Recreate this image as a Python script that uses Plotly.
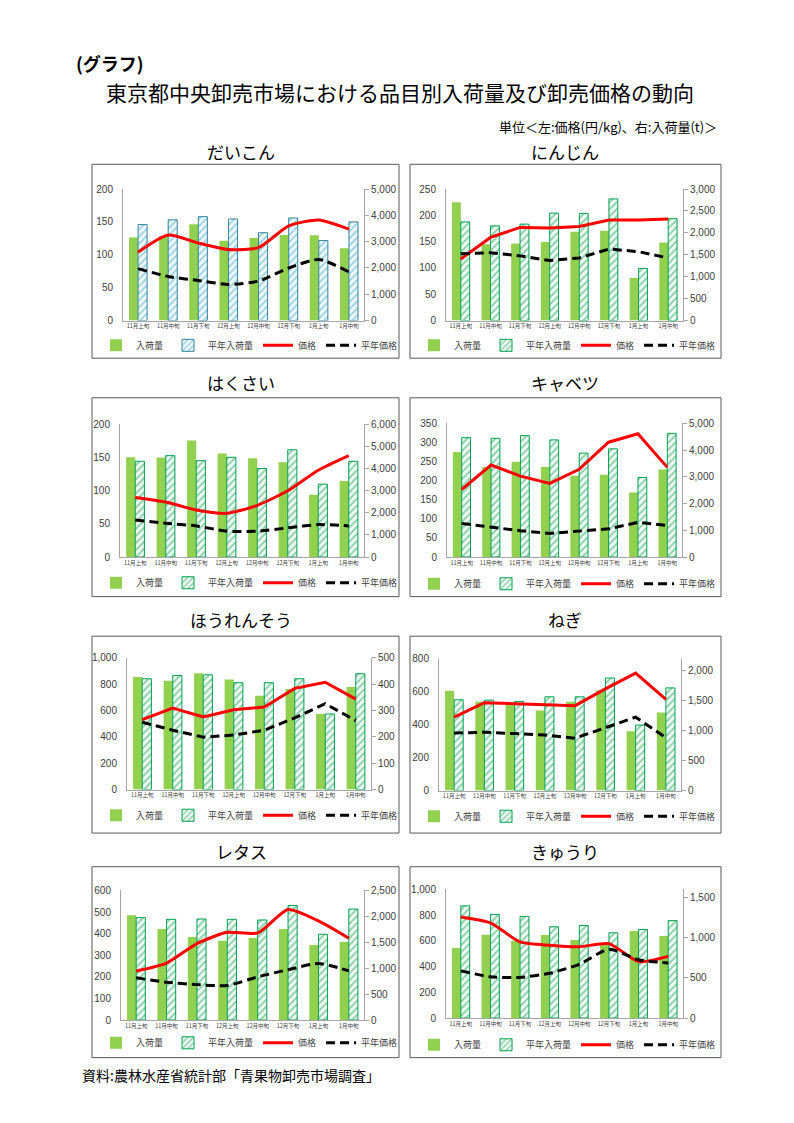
import plotly.graph_objects as go

W, H = 794, 1123

cats = ["11月上旬", "11月中旬", "11月下旬", "12月上旬", "12月中旬", "12月下旬", "1月上旬", "1月中旬"]
legend_names = ["入荷量", "平年入荷量", "価格", "平年価格"]

# だいこん
daikon_qty = [3160, 3200, 3660, 3030, 3140, 3250, 3240, 2750]
daikon_avg_qty = [3650, 3830, 3950, 3860, 3340, 3900, 3040, 3750]
daikon_price = [104, 130, 118, 108, 111, 144, 153, 139]
daikon_avg_price = [79, 67, 61, 55, 60, 80, 93, 74]
# にんじん
ninjin_qty = [2700, 1740, 1760, 1790, 2025, 2050, 970, 1780]
ninjin_avg_qty = [2250, 2160, 2200, 2450, 2445, 2775, 1190, 2325]
ninjin_price = [117, 158, 177, 176, 179, 191, 191, 193]
ninjin_avg_price = [127, 129, 123, 114, 119, 136, 131, 119]
# はくさい
hakusai_qty = [4515, 4510, 5270, 4690, 4470, 4290, 2820, 3445]
hakusai_avg_qty = [4335, 4590, 4365, 4515, 4010, 4855, 3300, 4335]
hakusai_price = [90, 83, 71, 66, 78, 100, 131, 153]
hakusai_avg_price = [56, 51, 47, 39, 39, 44, 49, 47]
# キャベツ
cabbage_qty = [3930, 3375, 3570, 3375, 3040, 3080, 2415, 3275]
cabbage_avg_qty = [4470, 4445, 4545, 4385, 3890, 4050, 2980, 4630]
cabbage_price = [177, 241, 212, 193, 230, 301, 323, 235]
cabbage_avg_price = [88, 79, 69, 62, 68, 74, 91, 83]
# ほうれんそう
spinach_qty = [428, 413, 442, 418, 356, 382, 287, 390]
spinach_avg_qty = [421, 433, 436, 406, 406, 421, 287, 440]
spinach_price = [531, 619, 551, 606, 627, 769, 815, 687]
spinach_avg_price = [511, 451, 398, 414, 451, 544, 652, 524]
# ねぎ
negi_qty = [1667, 1485, 1457, 1337, 1485, 1677, 990, 1303]
negi_avg_qty = [1518, 1512, 1490, 1567, 1567, 1881, 1094, 1716]
negi_price = [446, 534, 528, 520, 516, 618, 714, 554]
negi_avg_price = [350, 354, 346, 338, 318, 384, 446, 322]
# レタス
lettuce_qty = [2020, 1758, 1604, 1528, 1585, 1758, 1450, 1508]
lettuce_avg_qty = [1975, 1943, 1949, 1943, 1930, 2211, 1655, 2141]
lettuce_price = [227, 264, 354, 406, 403, 512, 459, 379]
lettuce_avg_price = [196, 175, 164, 160, 200, 233, 262, 228]
# きゅうり
kyuri_qty = [873, 1036, 960, 1033, 971, 930, 1082, 1020]
kyuri_avg_qty = [1396, 1290, 1265, 1135, 1151, 1061, 1102, 1212]
kyuri_price = [786, 740, 592, 566, 554, 579, 439, 480]
kyuri_avg_price = [367, 321, 316, 349, 418, 536, 454, 429]

panels = [
    dict(title="だいこん", d=(daikon_qty, daikon_avg_qty, daikon_price, daikon_avg_price),
         pmax=200, pd=50, qmax=5000, qd=1000, spline=True, blue=True),
    dict(title="にんじん", d=(ninjin_qty, ninjin_avg_qty, ninjin_price, ninjin_avg_price),
         pmax=250, pd=50, qmax=3000, qd=500, spline=False, blue=False),
    dict(title="はくさい", d=(hakusai_qty, hakusai_avg_qty, hakusai_price, hakusai_avg_price),
         pmax=200, pd=50, qmax=6000, qd=1000, spline=True, blue=False),
    dict(title="キャベツ", d=(cabbage_qty, cabbage_avg_qty, cabbage_price, cabbage_avg_price),
         pmax=350, pd=50, qmax=5000, qd=1000, spline=False, blue=False),
    dict(title="ほうれんそう", d=(spinach_qty, spinach_avg_qty, spinach_price, spinach_avg_price),
         pmax=1000, pd=200, qmax=500, qd=100, spline=False, blue=False),
    dict(title="ねぎ", d=(negi_qty, negi_avg_qty, negi_price, negi_avg_price),
         pmax=800, pd=200, qmax=2200, qd=500, spline=False, blue=False),
    dict(title="レタス", d=(lettuce_qty, lettuce_avg_qty, lettuce_price, lettuce_avg_price),
         pmax=600, pd=100, qmax=2500, qd=500, spline=True, blue=False),
    dict(title="きゅうり", d=(kyuri_qty, kyuri_avg_qty, kyuri_price, kyuri_avg_price),
         pmax=1000, pd=200, qmax=1600, qd=500, spline=True, blue=False),
]

# layout geometry in pixels
box_x = [(92, 399), (410, 721)]
box_y = [(160, 356), (396, 597), (637, 836), (870, 1063)]
title_y = [147, 381, 620, 855]
title_x = [241, 565]
plot_rects = [  # l, r, t, b
    (123, 364, 185, 318), (446, 683, 185, 318),
    (120, 364, 423, 557), (447, 682, 422, 557),
    (127, 371, 659, 792), (439, 681, 660, 793),
    (121, 364, 894, 1025), (446, 683, 893, 1023),
]
legend_y = [343, 343, 583, 584, 818, 819, 1048, 1050]


def fx(px):
    return px / W


def fy(py):
    return 1 - py / H


CJK = "Noto Sans CJK JP"
NUM = "Liberation Sans"
AXC = "#A6A6A6"
TXT = "#404040"
SOLID = "#92D050"

fig = go.Figure()
layout = dict(
    width=W, height=H, margin=dict(l=0, r=0, t=0, b=0),
    paper_bgcolor="white", plot_bgcolor="rgba(0,0,0,0)",
    barmode="group", bargap=0.4, bargroupgap=0,
    font=dict(family=CJK, color=TXT),
    shapes=[], annotations=[],
)

for i, p in enumerate(panels):
    k = i + 1
    col, row = i % 2, i // 2
    l, r, t, b = plot_rects[i]
    xn = "x" if k == 1 else f"x{k}"
    yb = f"y{2 * k - 1}" if k > 1 else "y"
    yl = f"y{2 * k}"
    leg = "legend" if k == 1 else f"legend{k}"
    qty, avg_qty, price, avg_price = p["d"]
    hatch_c = "#4BACC6" if p["blue"] else "#21A35A"
    edge_c = "#31859C" if p["blue"] else "#00A050"
    hbg = "#EEF8FB" if p["blue"] else "#F0FAF4"

    fig.add_trace(go.Bar(x=cats, y=qty, name=legend_names[0], xaxis=xn, yaxis=yb,
                         marker=dict(color=SOLID, line=dict(width=0)), legend=leg,
                         offsetgroup="a"))
    fig.add_trace(go.Bar(x=cats, y=avg_qty, name=legend_names[1], xaxis=xn, yaxis=yb,
                         marker=dict(color=hbg, line=dict(color=edge_c, width=1),
                                     pattern=dict(shape="/", fgcolor=hatch_c, bgcolor=hbg,
                                                  size=5, solidity=0.35)),
                         legend=leg, offsetgroup="b"))
    shape = "spline" if p["spline"] else "linear"
    fig.add_trace(go.Scatter(x=cats, y=price, name=legend_names[2], xaxis=xn, yaxis=yl,
                             mode="lines", line=dict(color="#FF0000", width=3, shape=shape,
                                                     smoothing=0.6), legend=leg))
    fig.add_trace(go.Scatter(x=cats, y=avg_price, name=legend_names[3], xaxis=xn, yaxis=yl,
                             mode="lines", line=dict(color="black", width=3, shape=shape,
                                                     smoothing=0.6, dash="9px,5px"),
                             legend=leg))

    xkey = "xaxis" if k == 1 else f"xaxis{k}"
    ybkey = "yaxis" if k == 1 else f"yaxis{2 * k - 1}"
    ylkey = f"yaxis{2 * k}"
    layout[xkey] = dict(domain=[fx(l), fx(r)], anchor=yb, type="category",
                        range=[-0.5, 7.5], tickangle=0, showline=True, linecolor=AXC,
                        linewidth=1, ticks="", showgrid=False, zeroline=False,
                        tickfont=dict(size=5.5, family=CJK, color=TXT))
    layout[ybkey] = dict(domain=[fy(b), fy(t)], anchor=xn, side="right",
                         range=[0, p["qmax"]], dtick=p["qd"], tick0=0, tickformat=",",
                         showline=True, linecolor=AXC, linewidth=1, ticks="outside",
                         ticklen=4, tickcolor=AXC, showgrid=False, zeroline=False,
                         tickfont=dict(size=10, family=NUM, color=TXT))
    layout[ylkey] = dict(overlaying=yb, anchor=xn, side="left",
                         range=[0, p["pmax"]], dtick=p["pd"], tick0=0, tickformat=",",
                         showline=True, linecolor=AXC, linewidth=1, ticks="outside",
                         ticklen=7, tickcolor="rgba(0,0,0,0)", showgrid=False,
                         zeroline=False, tickfont=dict(size=10, family=NUM, color=TXT))
    layout[leg] = dict(orientation="h", x=fx(box_x[col][0] + 4), xanchor="left",
                       y=fy(legend_y[i]), yanchor="middle", bgcolor="rgba(0,0,0,0)",
                       font=dict(size=9, family=CJK, color=TXT), itemwidth=30,
                       traceorder="normal", tracegroupgap=0)

    bx0, bx1 = box_x[col]
    by0, by1 = box_y[row]
    layout["shapes"].append(dict(type="rect", xref="paper", yref="paper",
                                 x0=fx(bx0), x1=fx(bx1), y0=fy(by1), y1=fy(by0),
                                 line=dict(color="#595959", width=1)))
    layout["annotations"].append(dict(text=p["title"], xref="paper", yref="paper",
                                      x=fx(title_x[col]), y=fy(title_y[row]),
                                      xanchor="center", yanchor="middle", showarrow=False,
                                      font=dict(size=17, family=CJK, color="black")))

layout["annotations"] += [
    dict(text="<b>(グラフ)</b>", xref="paper", yref="paper", x=fx(74), y=fy(58),
         xanchor="left", yanchor="middle", showarrow=False,
         font=dict(size=18, family=CJK, color="black")),
    dict(text="東京都中央卸売市場における品目別入荷量及び卸売価格の動向", xref="paper",
         yref="paper", x=fx(400), y=fy(87), xanchor="center", yanchor="middle",
         showarrow=False, font=dict(size=21, family=CJK, color="black")),
    dict(text="単位＜左:価格(円/kg)、右:入荷量(t)＞", xref="paper", yref="paper",
         x=fx(719), y=fy(122), xanchor="right", yanchor="middle", showarrow=False,
         font=dict(size=13, family=CJK, color="black")),
    dict(text="資料:農林水産省統計部「青果物卸売市場調査」", xref="paper", yref="paper",
         x=fx(80), y=fy(1081), xanchor="left", yanchor="middle", showarrow=False,
         font=dict(size=14, family=CJK, color="black")),
]

fig.update_layout(**layout)
fig.write_html("out.html", config={"displayModeBar": False},
               post_script="document.body.style.margin='0';")
